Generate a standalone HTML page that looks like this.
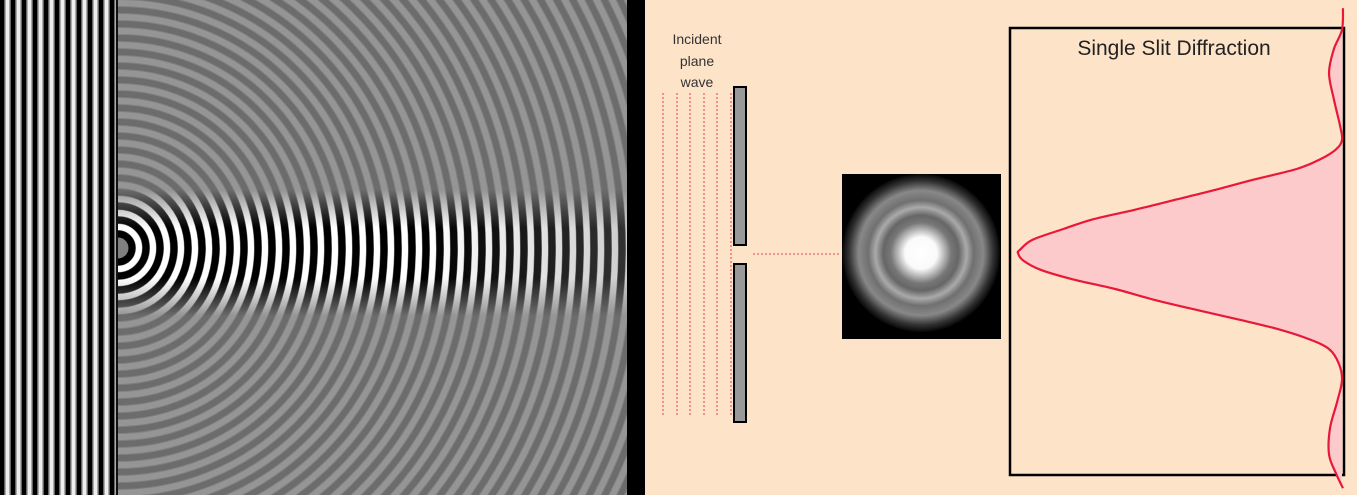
<!DOCTYPE html>
<html><head><meta charset="utf-8"><style>
html,body{margin:0;padding:0;background:#fde3c8;overflow:hidden;width:1357px;height:495px;}
svg{display:block;font-family:"Liberation Sans",sans-serif;}
</style></head><body>
<svg id="root" width="1357" height="495" viewBox="0 0 1357 495">
<defs>
<pattern id="stripes" width="11" height="10" patternUnits="userSpaceOnUse">
<rect width="11" height="10" fill="#eee"/>
<rect x="0" width="4" height="10" fill="#000"/>
<rect x="4" width="1.5" height="10" fill="#666"/>
<rect x="9.5" width="1.5" height="10" fill="#666"/>
</pattern>
<radialGradient id="airy" cx="921" cy="253" r="80" gradientUnits="userSpaceOnUse">
<stop offset="0" stop-color="#fff"/>
<stop offset="0.2" stop-color="#fafafa"/>
<stop offset="0.38" stop-color="#777"/>
<stop offset="0.47" stop-color="#666"/>
<stop offset="0.57" stop-color="#aaa"/>
<stop offset="0.66" stop-color="#707070"/>
<stop offset="0.78" stop-color="#888"/>
<stop offset="0.9" stop-color="#333"/>
<stop offset="1" stop-color="#000"/>
</radialGradient>
<linearGradient id="beamMask" x1="0" y1="0" x2="0" y2="1">
<stop offset="0" stop-color="#000"/>
<stop offset="0.3" stop-color="#fff"/>
<stop offset="0.7" stop-color="#fff"/>
<stop offset="1" stop-color="#000"/>
</linearGradient>
<linearGradient id="beamMaskH" x1="0" y1="0" x2="1" y2="0">
<stop offset="0" stop-color="#fff"/>
<stop offset="0.6" stop-color="#fff"/>
<stop offset="1" stop-color="#888"/>
</linearGradient>
<mask id="beamH" maskUnits="userSpaceOnUse" x="118" y="0" width="509" height="495">
<rect x="118" y="0" width="509" height="495" fill="url(#beamMaskH)"/>
</mask>
<mask id="beam" maskUnits="userSpaceOnUse" x="118" y="0" width="509" height="495">
<rect x="118" y="190" width="509" height="126" fill="url(#beamMask)" mask="url(#beamH)"/>
</mask>
<clipPath id="waveClip"><rect x="118" y="0" width="509" height="495"/></clipPath>
</defs>
<rect x="0" y="0" width="627" height="495" fill="#808080"/>
<rect x="0" y="0" width="116" height="495" fill="url(#stripes)"/>
<g id="waveRings" clip-path="url(#waveClip)"></g>
<g id="waveBeam" clip-path="url(#waveClip)" mask="url(#beam)"></g>
<rect x="116" y="0" width="2" height="495" fill="#111"/>
<rect x="627" y="0" width="18" height="495" fill="#000"/>

<g fill="#333" font-size="14" text-anchor="middle">
<text x="697" y="44">Incident</text><text x="697" y="66">plane</text><text x="697" y="87">wave</text>
</g>
<g id="dots" stroke="#f37a7a" stroke-width="1.6" stroke-dasharray="2 2"></g>
<rect x="734" y="87" width="12" height="158" fill="#999" stroke="#000" stroke-width="2"/>
<rect x="734" y="264" width="12" height="158" fill="#999" stroke="#000" stroke-width="2"/>
<line x1="753" y1="254" x2="839" y2="254" stroke="#f37a7a" stroke-width="1.6" stroke-dasharray="2 2"/>
<rect x="842" y="174" width="159" height="165" fill="#000"/>
<circle cx="921" cy="253" r="79" fill="url(#airy)"/>

<rect x="1010" y="28" width="334" height="447" fill="none" stroke="#000" stroke-width="2.5"/>
<text x="1174" y="55" font-size="21" text-anchor="middle" fill="#222">Single Slit Diffraction</text>
<path id="fillArea" fill="#fccaca"/>
<path id="curve" fill="none" stroke="#e8183a" stroke-width="2.2"/>
</svg>
<script>
// chart data: angular offset (arb. units) and relative intensity
const angles = [-10.2,-9.3,-8.5,-7.5,-6.4,-5.3,-4.7,-4.3,-3.9,-3.5,-3.05,-2.6,-2.2,-1.8,-1.4,-1.0,-0.55,-0.12,0,0.3,0.7,1.1,1.5,1.95,2.4,2.8,3.2,3.6,4.0,4.6,5.3,6.2,7.3,8.4,9.2,9.8];
const intensity = [-0.003,0,0.025,0.04,0.025,0.006,0,0.02,0.068,0.14,0.275,0.4,0.52,0.64,0.77,0.86,0.955,0.995,1,0.985,0.93,0.83,0.7,0.58,0.44,0.31,0.19,0.1,0.04,0.01,0,0.015,0.037,0.04,0.018,-0.003];

const y0 = 253, yUnit = 24, xBase = 1342, xMax = 324;
const yS = a => y0 + a * yUnit;
const xS = v => xBase - v * xMax;

function smoothPath(pts){
  let d = `M${pts[0][0]},${pts[0][1]}`;
  for(let i=0;i<pts.length-1;i++){
    const p0=pts[Math.max(0,i-1)],p1=pts[i],p2=pts[i+1],p3=pts[Math.min(pts.length-1,i+2)];
    const c1=[p1[0]+(p2[0]-p0[0])/6,p1[1]+(p2[1]-p0[1])/6];
    const c2=[p2[0]-(p3[0]-p1[0])/6,p2[1]-(p3[1]-p1[1])/6];
    d+=` C${c1[0]},${c1[1]} ${c2[0]},${c2[1]} ${p2[0]},${p2[1]}`;
  }
  return d;
}
const pts = angles.map((a,i)=>[xS(intensity[i]), yS(a)]);
const cd = smoothPath(pts);
document.getElementById('curve').setAttribute('d', cd);
document.getElementById('fillArea').setAttribute('d', cd + ` L${xBase},${pts[pts.length-1][1]} L${xBase},${pts[0][1]} Z`);

const NS='http://www.w3.org/2000/svg';
const dots=document.getElementById('dots');
[663,677,690,704,717,731].forEach(x=>{
  const l=document.createElementNS(NS,'line');
  l.setAttribute('x1',x);l.setAttribute('x2',x);l.setAttribute('y1',93);l.setAttribute('y2',415);
  
  
  dots.appendChild(l);
});
const rings=document.getElementById('waveRings'), beam=document.getElementById('waveBeam');
for(let r=14;r<620;r+=14){
  const c1=document.createElementNS(NS,'circle');
  c1.setAttribute('cx',118);c1.setAttribute('cy',248);c1.setAttribute('r',r);
  c1.setAttribute('fill','none');c1.setAttribute('stroke','#6c6c6c');c1.setAttribute('stroke-width',6);
  
  
  rings.appendChild(c1);
  const c2=document.createElementNS(NS,'circle');
  c2.setAttribute('cx',118);c2.setAttribute('cy',248);c2.setAttribute('r',r+7);
  c2.setAttribute('fill','none');c2.setAttribute('stroke','#959595');c2.setAttribute('stroke-width',6);
  
  
  rings.appendChild(c2);
  const b1=document.createElementNS(NS,'circle');
  b1.setAttribute('cx',118);b1.setAttribute('cy',248);b1.setAttribute('r',r);
  b1.setAttribute('fill','none');b1.setAttribute('stroke','#000');b1.setAttribute('stroke-width',7);
  
  
  beam.appendChild(b1);
  const b2=document.createElementNS(NS,'circle');
  b2.setAttribute('cx',118);b2.setAttribute('cy',248);b2.setAttribute('r',r+7);
  b2.setAttribute('fill','none');b2.setAttribute('stroke','#fff');b2.setAttribute('stroke-width',6);
  
  
  beam.appendChild(b2);
}
</script>
</body></html>
